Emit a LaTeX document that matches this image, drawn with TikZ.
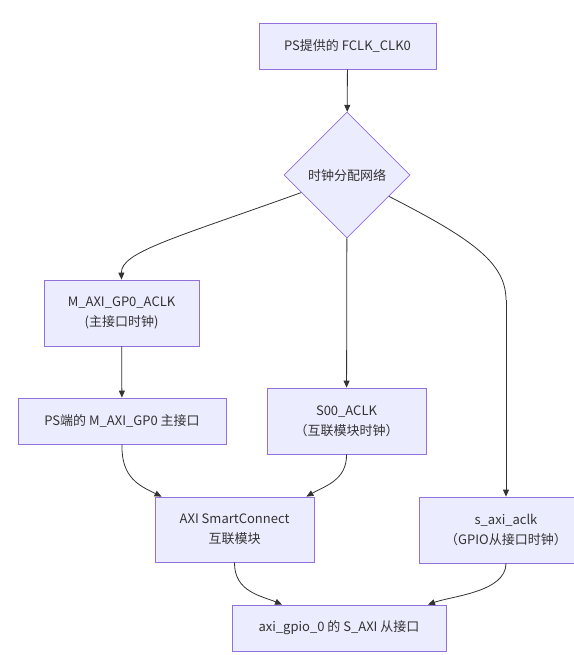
\documentclass[tikz,border=0pt]{standalone}
\usepackage{fontspec}
\setmainfont{Noto Sans CJK SC}
\usetikzlibrary{shapes.geometric,arrows.meta}
\definecolor{boxfill}{HTML}{ECECFF}
\definecolor{boxline}{HTML}{9370DB}
\definecolor{edgeline}{HTML}{333333}
\tikzset{
  blk/.style={draw=boxline, fill=boxfill, line width=0.8pt, inner sep=0pt,
    align=center, text=edgeline, font=\fontsize{13}{20}\selectfont},
  dec/.style={blk, diamond, aspect=1, minimum size=126},
  flow/.style={draw=edgeline, line width=0.8pt, -{Triangle[length=7pt,width=6pt]}}
}
\begin{document}
\begin{tikzpicture}[x=1pt, y=-1pt]
\useasboundingbox (0,0) rectangle (573,655);

% Nos
\node[blk, minimum width=177, minimum height=46] (fclk) at (347.5,46) {PS提供的 FCLK\_CLK0};
\node[dec] (dist) at (347,175) {时钟分配网络};
\node[blk, minimum width=155, minimum height=66] (mclk) at (121.5,313) {M\_AXI\_GP0\_ACLK\\(主接口时钟)};
\node[blk, minimum width=208, minimum height=46] (psport) at (122,421) {PS端的 M\_AXI\_GP0 主接口};
\node[blk, minimum width=159, minimum height=66] (sclk) at (346.5,421) {S00\_ACLK\\（互联模块时钟）};
\node[blk, minimum width=159, minimum height=65] (smc) at (234.5,529.5) {AXI SmartConnect\\互联模块};
\node[blk, minimum width=174, minimum height=66] (gclk) at (506,530) {s\_axi\_aclk\\（GPIO从接口时钟）};
\node[blk, minimum width=214, minimum height=46] (gpio) at (339,628) {axi\_gpio\_0 的 S\_AXI 从接口};

% Ligacoes
\coordinate (bendR) at (506,300);
\draw[flow] (fclk) -- (dist);
\draw[flow] (dist.201) .. controls (175,238) and (121,252) .. (mclk.north);
\draw[flow] (dist) -- (sclk);
\draw[draw=edgeline, line width=0.8pt] (dist.333) .. controls (470,238) and (506,262) .. (bendR);
\draw[flow] (bendR) -- (gclk.north);
\draw[flow] (mclk) -- (psport);
\draw[flow] (psport.south) .. controls (121,478) and (140,486) .. ([xshift=7]smc.north west);
\draw[flow] (sclk.south) .. controls (347,480) and (325,486) .. ([xshift=-8]smc.north east);
\draw[flow] (smc.south) .. controls (234,592) and (262,596) .. ([xshift=-57]gpio.north);
\draw[flow] (gclk.south) .. controls (506,592) and (452,596) .. ([xshift=89]gpio.north);
\end{tikzpicture}
\end{document}
